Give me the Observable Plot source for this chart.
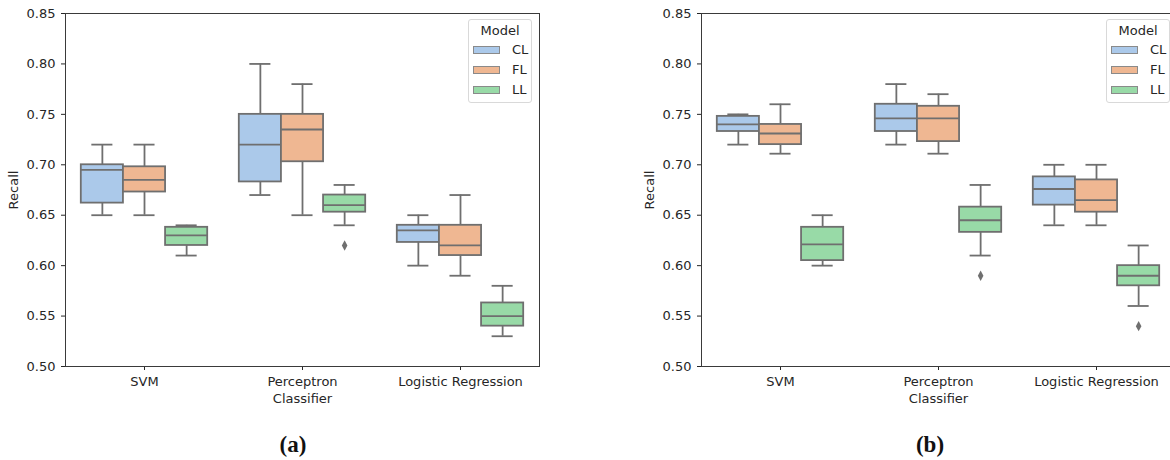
<!DOCTYPE html>
<html>
<head>
<meta charset="utf-8">
<script src="https://cdn.jsdelivr.net/npm/d3@7"></script>
<script src="https://cdn.jsdelivr.net/npm/@observablehq/plot@0.6"></script>
<style>
  html, body { margin: 0; padding: 0; background: #fff; }
  body { width: 1170px; height: 460px; overflow: hidden; position: relative; font-family: "DejaVu Sans", sans-serif; }
  .panel { position: absolute; top: 0; }
  .panel svg { max-width: none !important; }
  .legend { position: absolute; border: 1px solid #d9d9d9; border-radius: 3px; background: rgba(255,255,255,0.85); font-size: 13px; color: #262626; box-sizing: border-box; }
  .legend .title { position: absolute; left: 0; right: 0; top: 3px; text-align: center; }
  .legend .sw { position: absolute; left: 4px; width: 27px; height: 8px; border: 1px solid #8a8a8a; box-sizing: border-box; }
  .legend .lab { position: absolute; left: 43px; line-height: 14px; }
  .caption { position: absolute; top: 432px; font-family: "Liberation Serif", "Times New Roman", serif; font-weight: bold; font-size: 23px; color: #111; transform: translateX(-50%); }
</style>
</head>
<body>
<script>
// ---- data ----
const classifiers = ["SVM", "Perceptron", "Logistic Regression"];
const models = ["CL", "FL", "LL"];
const colors = ["#abc9ea", "#efb792", "#98daa7"];
const yTicks = [0.50, 0.55, 0.60, 0.65, 0.70, 0.75, 0.80, 0.85];

// order: SVM CL, FL, LL, Perceptron CL, FL, LL, Logistic Regression CL, FL, LL
const aHigh   = [0.720, 0.720, 0.640, 0.800, 0.780, 0.680, 0.650, 0.670, 0.580];
const aQ3     = [0.700, 0.698, 0.638, 0.750, 0.750, 0.670, 0.640, 0.640, 0.563];
const aMedian = [0.695, 0.685, 0.630, 0.720, 0.735, 0.660, 0.635, 0.620, 0.550];
const aQ1     = [0.662, 0.673, 0.620, 0.683, 0.703, 0.653, 0.623, 0.610, 0.540];
const aLow    = [0.650, 0.650, 0.610, 0.670, 0.650, 0.640, 0.600, 0.590, 0.530];
const aOutliers = [{classifier: "Perceptron", model: "LL", value: 0.620}];

const bHigh   = [0.750, 0.760, 0.650, 0.780, 0.770, 0.680, 0.700, 0.700, 0.620];
const bQ3     = [0.748, 0.740, 0.638, 0.760, 0.758, 0.658, 0.688, 0.685, 0.600];
const bMedian = [0.740, 0.731, 0.621, 0.746, 0.746, 0.645, 0.676, 0.665, 0.590];
const bQ1     = [0.733, 0.720, 0.605, 0.733, 0.723, 0.633, 0.660, 0.653, 0.580];
const bLow    = [0.720, 0.711, 0.600, 0.720, 0.711, 0.610, 0.640, 0.640, 0.560];
const bOutliers = [
  {classifier: "Perceptron", model: "LL", value: 0.590},
  {classifier: "Logistic Regression", model: "LL", value: 0.540}
];

// ---- drawing ----
const boxW = 0.8 / models.length;
const lineGray = "#6f6f6f";
const thinDiamond = {
  draw(context, size) {
    const r = Math.sqrt(size / Math.PI);
    context.moveTo(0, -r * 1.15);
    context.lineTo(r * 0.62, 0);
    context.lineTo(0, r * 1.15);
    context.lineTo(-r * 0.62, 0);
    context.closePath();
  }
};

function center(classifier, model) {
  return classifiers.indexOf(classifier) + (models.indexOf(model) - (models.length - 1) / 2) * boxW;
}

function makePanel(hi, q3, med, q1, lo, outliers, width, marginLeft, marginRight) {
  const rows = [];
  classifiers.forEach((c, ci) => models.forEach((m, mi) => {
    const k = ci * models.length + mi;
    const cx = center(c, m);
    rows.push({classifier: c, model: m, cx,
      x1: cx - boxW / 2, x2: cx + boxW / 2, c1: cx - boxW / 4, c2: cx + boxW / 4,
      hi: hi[k], q3: q3[k], med: med[k], q1: q1[k], lo: lo[k]});
  }));
  const pts = outliers.map(o => ({...o, cx: center(o.classifier, o.model)}));
  return Plot.plot({
    width, height: 420,
    marginLeft, marginRight, marginTop: 13, marginBottom: 54,
    style: {fontFamily: "DejaVu Sans, sans-serif", fontSize: "13px", color: "#262626", background: "transparent", overflow: "visible", maxWidth: "none"},
    x: {domain: [-0.5, 2.5], ticks: [0, 1, 2], tickFormat: i => classifiers[i], tickSize: 4, tickPadding: 6, label: null},
    y: {domain: [0.5, 0.85], ticks: yTicks, tickFormat: d3.format(".2f"), tickSize: 4, tickPadding: 6, label: null},
    color: {domain: models, range: colors},
    marks: [
      Plot.ruleX(rows, {x: "cx", y1: "q3", y2: "hi", stroke: lineGray, strokeWidth: 1.8}),
      Plot.ruleX(rows, {x: "cx", y1: "lo", y2: "q1", stroke: lineGray, strokeWidth: 1.8}),
      Plot.ruleY(rows, {y: "hi", x1: "c1", x2: "c2", stroke: lineGray, strokeWidth: 1.8}),
      Plot.ruleY(rows, {y: "lo", x1: "c1", x2: "c2", stroke: lineGray, strokeWidth: 1.8}),
      Plot.rect(rows, {x1: "x1", x2: "x2", y1: "q1", y2: "q3", fill: "model", stroke: lineGray, strokeWidth: 1.8}),
      Plot.ruleY(rows, {y: "med", x1: "x1", x2: "x2", stroke: lineGray, strokeWidth: 1.8}),
      Plot.dot(pts, {x: "cx", y: "value", r: 4.5, symbol: thinDiamond, fill: lineGray, stroke: "none"}),
      Plot.text(["Recall"], {frameAnchor: "left", dx: -52, rotate: -90, textAnchor: "middle", fill: "#262626"}),
      Plot.text(["Classifier"], {frameAnchor: "bottom", dy: 36, textAnchor: "middle", fill: "#262626"}),
      Plot.frame({stroke: "#3a3a3a", strokeWidth: 1})
    ]
  });
}

function addLegend(left, top) {
  const L = document.createElement("div");
  L.className = "legend";
  L.style.left = left + "px"; L.style.top = top + "px";
  L.style.width = "64px"; L.style.height = "84px";
  const t = document.createElement("div");
  t.className = "title"; t.textContent = "Model";
  L.appendChild(t);
  models.forEach((m, i) => {
    const sw = document.createElement("div");
    sw.className = "sw"; sw.style.top = (26 + i * 20) + "px"; sw.style.background = colors[i];
    L.appendChild(sw);
    const lab = document.createElement("div");
    lab.className = "lab"; lab.style.top = (23 + i * 20) + "px"; lab.textContent = m;
    L.appendChild(lab);
  });
  document.body.appendChild(L);
}

function addPanel(svg, left, width) {
  const d = document.createElement("div");
  d.className = "panel"; d.style.left = left + "px"; d.style.width = width + "px";
  d.appendChild(svg);
  document.body.appendChild(d);
}

addPanel(makePanel(aHigh, aQ3, aMedian, aQ1, aLow, aOutliers, 580, 65, 41), 0, 580);
addPanel(makePanel(bHigh, bQ3, bMedian, bQ1, bLow, bOutliers, 600, 121, 5), 580, 600);
addLegend(468, 19);
addLegend(1106, 19);

[["(a)", 293], ["(b)", 930]].forEach(([txt, x]) => {
  const c = document.createElement("div");
  c.className = "caption"; c.textContent = txt; c.style.left = x + "px";
  document.body.appendChild(c);
});
</script>
</body>
</html>
